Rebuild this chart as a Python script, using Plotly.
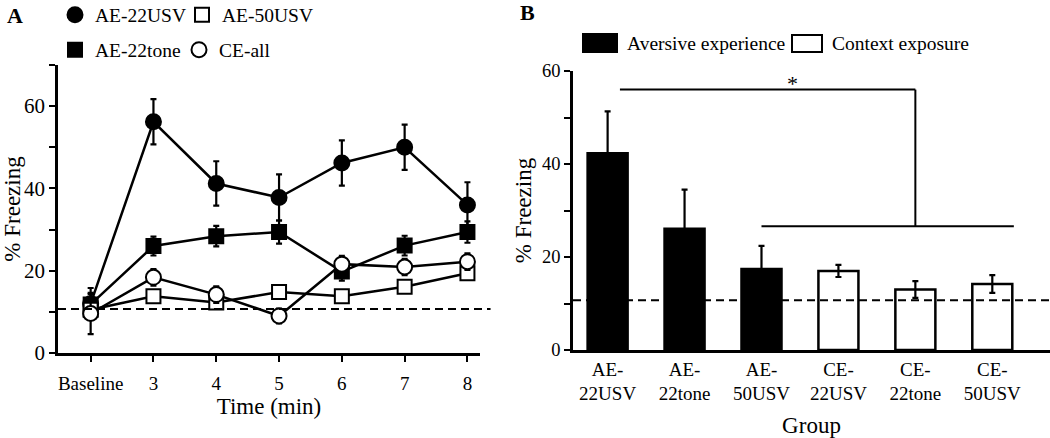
import plotly.graph_objects as go

# ---------- Panel A data ----------
time_labels = ["Baseline", "3", "4", "5", "6", "7", "8"]
ae22usv = [12.0, 56.2, 41.2, 37.8, 46.2, 50.0, 36.0]
ae22usv_err = [3.8, 5.5, 5.4, 5.6, 5.5, 5.5, 5.5]
ae22tone = [11.8, 26.0, 28.4, 29.4, 19.8, 26.1, 29.4]
ae22tone_err = [2.5, 2.3, 2.5, 2.8, 2.2, 2.4, 2.6]
ae50usv = [10.5, 13.8, 12.3, 14.8, 13.8, 16.1, 19.4]
ae50usv_err = [1.5, 1.2, 1.5, 1.2, 1.0, 1.2, 1.2]
ce_all = [9.6, 18.4, 14.2, 9.0, 21.6, 20.9, 22.2]
ce_all_err = [5.0, 2.0, 2.0, 1.8, 2.0, 2.0, 2.0]
baseline_level_a = 10.7

# ---------- Panel B data ----------
groups = ["AE-<br>22USV", "AE-<br>22tone", "AE-<br>50USV", "CE-<br>22USV", "CE-<br>22tone", "CE-<br>50USV"]
group_kind = ["AE", "AE", "AE", "CE", "CE", "CE"]
freezing = [42.3, 26.1, 17.4, 17.0, 13.0, 14.2]
freezing_err = [9.0, 8.4, 5.0, 1.3, 1.8, 1.9]
baseline_level_b = 10.7
sig_upper_y = 56.0
sig_lower_y = 26.6

FONT = "Liberation Serif"
W, H = 1050, 438

fig = go.Figure()

# name, values, errors, symbol, fill, legend id, legend pixel position (x, y-center)
series = [
    ("AE-22USV", ae22usv, ae22usv_err, "circle", "black", "legend", (55, 15)),
    ("AE-22tone", ae22tone, ae22tone_err, "square", "black", "legend2", (55, 50)),
    ("AE-50USV", ae50usv, ae50usv_err, "square", "white", "legend3", (182, 15)),
    ("CE-all", ce_all, ce_all_err, "circle", "white", "legend4", (179, 50)),
]

# connecting lines first (behind all markers)
for name, vals, err, sym, fill, lg, pos in series:
    fig.add_trace(go.Scatter(
        x=time_labels, y=vals, mode="lines", line=dict(color="black", width=2.5),
        showlegend=False, hoverinfo="skip", xaxis="x", yaxis="y"))

for name, vals, err, sym, fill, lg, pos in series:
    fig.add_trace(go.Scatter(
        x=time_labels, y=vals, mode="markers", name=name, legend=lg,
        marker=dict(symbol=sym, size=15 if sym == "circle" else 14, color=fill,
                    line=dict(color="black", width=2)),
        error_y=dict(type="data", array=err, color="black", thickness=2.2, width=3),
        xaxis="x", yaxis="y"))

# Panel B bars
fig.add_trace(go.Bar(
    x=groups, y=freezing, width=0.52,
    marker=dict(color=["black" if k == "AE" else "white" for k in group_kind],
                line=dict(color="black", width=2.5)),
    error_y=dict(type="data", array=freezing_err, color="black", thickness=2.2, width=3),
    showlegend=False, xaxis="x2", yaxis="y2"))

shapes = []
# dashed reference lines
shapes.append(dict(type="line", xref="x domain", yref="y", x0=0, x1=1.025,
                   y0=baseline_level_a, y1=baseline_level_a,
                   line=dict(color="black", width=1.8, dash="8px,5px")))
shapes.append(dict(type="line", xref="x2 domain", yref="y2", x0=0, x1=1,
                   y0=baseline_level_b, y1=baseline_level_b,
                   line=dict(color="black", width=1.8, dash="8px,5px")))
# significance bracket
shapes.append(dict(type="line", xref="x2", yref="y2", x0=0.16, x1=4.0, y0=sig_upper_y, y1=sig_upper_y,
                   line=dict(color="black", width=2)))
shapes.append(dict(type="line", xref="x2", yref="y2", x0=4.0, x1=4.0, y0=sig_upper_y, y1=sig_lower_y,
                   line=dict(color="black", width=2)))
shapes.append(dict(type="line", xref="x2", yref="y2", x0=2.0, x1=5.28, y0=sig_lower_y, y1=sig_lower_y,
                   line=dict(color="black", width=2)))
# legend B boxes
shapes.append(dict(type="rect", xref="paper", yref="paper", x0=583 / W, x1=617 / W,
                   y0=1 - 52 / H, y1=1 - 34 / H, fillcolor="black", line=dict(color="black", width=2)))
shapes.append(dict(type="rect", xref="paper", yref="paper", x0=792 / W, x1=822 / W,
                   y0=1 - 52 / H, y1=1 - 35 / H, fillcolor="white", line=dict(color="black", width=2)))

annotations = [
    dict(text="<b>A</b>", x=15 / W, y=1 - 15 / H, xref="paper", yref="paper", showarrow=False,
         font=dict(size=22), xanchor="center", yanchor="middle"),
    dict(text="<b>B</b>", x=527 / W, y=1 - 12 / H, xref="paper", yref="paper", showarrow=False,
         font=dict(size=22), xanchor="center", yanchor="middle"),
    dict(text="*", x=2.4, y=sig_upper_y + 1.4, xref="x2", yref="y2", showarrow=False,
         font=dict(size=22), xanchor="center", yanchor="middle"),
    dict(text="Aversive experience", x=625 / W, y=1 - 43 / H, xref="paper", yref="paper",
         showarrow=False, font=dict(size=19.5), xanchor="left", yanchor="middle"),
    dict(text="Context exposure", x=830 / W, y=1 - 43 / H, xref="paper", yref="paper",
         showarrow=False, font=dict(size=19.5), xanchor="left", yanchor="middle"),
]

axis_common = dict(showline=True, linecolor="black", linewidth=2.5, showgrid=False, zeroline=False,
                   color="black", automargin=False)

legends = {}
for name, vals, err, sym, fill, lg, (px, py) in series:
    legends[lg] = dict(orientation="h", x=px / W, y=1 - py / H, xanchor="left", yanchor="middle",
                       font=dict(size=19.5), bgcolor="rgba(0,0,0,0)")

fig.update_layout(
    width=W, height=H, margin=dict(l=0, r=0, t=0, b=0, pad=0, autoexpand=False),
    paper_bgcolor="white", plot_bgcolor="white",
    font=dict(family=FONT, color="black", size=19),
    xaxis=dict(domain=[58 / W, 480 / W], type="category", range=[-0.52, 6.2],
               ticks="outside", ticklen=6, tickwidth=2, tickcolor="black",
               tickfont=dict(size=19, color="black"), ticklabelstandoff=5,
               title=dict(text="Time (min)", font=dict(size=23), standoff=6),
               anchor="y", **axis_common),
    yaxis=dict(domain=[1 - 353 / H, 1 - 65 / H], range=[0, 70], tickvals=[0, 20, 40, 60],
               ticks="outside", ticklen=6, tickwidth=2, tickcolor="black",
               tickfont=dict(size=21, color="black"),
               minor=dict(tickvals=[10, 30, 50, 70], ticks="outside", ticklen=6, tickwidth=2, tickcolor="black"),
               title=dict(text="% Freezing", font=dict(size=23), standoff=8),
               anchor="x", **axis_common),
    xaxis2=dict(domain=[573 / W, 1.0], type="category", range=[-0.45, 5.75], ticks="",
                tickfont=dict(size=19, color="black"),
                title=dict(text="Group", font=dict(size=23), standoff=14),
                anchor="y2", **axis_common),
    yaxis2=dict(domain=[1 - 350 / H, 1 - 71 / H], range=[0, 60], tickvals=[0, 20, 40, 60],
                ticks="outside", ticklen=6, tickwidth=2, tickcolor="black",
                tickfont=dict(size=18.5, color="black"),
                minor=dict(tickvals=[10, 30, 50], ticks="outside", ticklen=6, tickwidth=2, tickcolor="black"),
                title=dict(text="% Freezing", font=dict(size=23), standoff=4),
                anchor="x2", **axis_common),
    shapes=shapes, annotations=annotations, bargap=0.48,
    **legends,
)

fig.write_html("out.html", config={"displayModeBar": False},
               post_script="document.body.style.margin='0';")
